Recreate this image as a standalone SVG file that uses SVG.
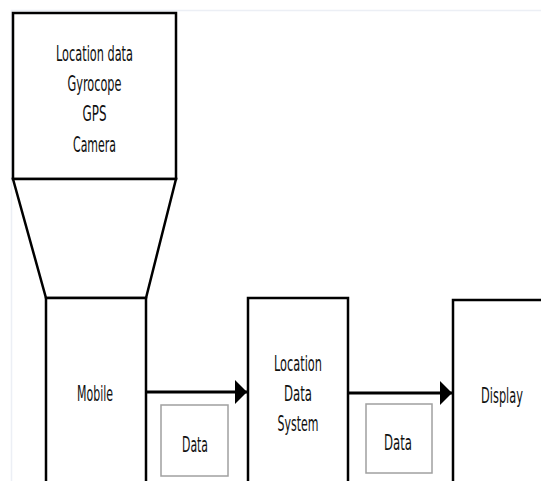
<svg xmlns="http://www.w3.org/2000/svg" width="541" height="481" viewBox="0 0 541 481">
<defs>
<style>
.n{fill:#fff;stroke:#000;stroke-width:2.5}
.o{fill:#fff;stroke:#000;stroke-width:2.5;stroke-linejoin:miter}
.d{fill:#fff;stroke:#a0a0a0;stroke-width:1.5}
.t{font-family:"DejaVu Sans",sans-serif;font-size:21px;fill:#111;text-anchor:middle}
.c{fill:none;stroke:#000;stroke-width:3}
</style>
<marker id="ah" markerUnits="userSpaceOnUse" markerWidth="14" markerHeight="26" refX="12" refY="12" orient="auto" viewBox="0 0 14 26">
<path d="M0,0 L12,12 L0,24 Z" fill="#000"/>
</marker>
</defs>
<rect width="541" height="481" fill="#fff"/>
<path d="M11.5,481 V10.5 H541" fill="none" stroke="#eceff5" stroke-width="1.5"/>
<g id="sensors">
<rect class="n" x="13" y="13" width="163" height="166"/>
<text class="t" x="94.5" y="61" textLength="77" lengthAdjust="spacingAndGlyphs">Location data</text>
<text class="t" x="94.5" y="91" textLength="54" lengthAdjust="spacingAndGlyphs">Gyrocope</text>
<text class="t" x="94.5" y="121" textLength="24" lengthAdjust="spacingAndGlyphs">GPS</text>
<text class="t" x="94.5" y="152" textLength="43" lengthAdjust="spacingAndGlyphs">Camera</text>
</g>
<g id="funnel">
<polygon class="n" points="13,179 176,179 146,298 46,298"/>
</g>
<g id="mobile">
<path class="o" d="M46,482 V298 H146 V482"/>
<text class="t" x="95" y="401" textLength="36" lengthAdjust="spacingAndGlyphs">Mobile</text>
</g>
<g id="lds">
<path class="o" d="M248,482 V298 H348 V482"/>
<text class="t" x="298" y="371" textLength="48" lengthAdjust="spacingAndGlyphs">Location</text>
<text class="t" x="298" y="401" textLength="28" lengthAdjust="spacingAndGlyphs">Data</text>
<text class="t" x="298" y="431" textLength="41" lengthAdjust="spacingAndGlyphs">System</text>
</g>
<g id="display">
<path class="o" d="M453,482 V300 H542"/>
<text class="t" transform="translate(502,403) scale(0.54,1)" x="0" y="0">Display</text>
</g>
<g id="data1">
<rect class="d" x="161" y="405" width="67" height="71"/>
<text class="t" x="195" y="452" textLength="26" lengthAdjust="spacingAndGlyphs">Data</text>
</g>
<g id="data2">
<rect class="d" x="366" y="404" width="66" height="69"/>
<text class="t" x="398" y="450" textLength="28" lengthAdjust="spacingAndGlyphs">Data</text>
</g>
<g id="connectors">
<line class="c" x1="147" y1="392" x2="247" y2="392" marker-end="url(#ah)"/>
<line class="c" x1="349" y1="393" x2="452" y2="393" marker-end="url(#ah)"/>
</g>
</svg>
